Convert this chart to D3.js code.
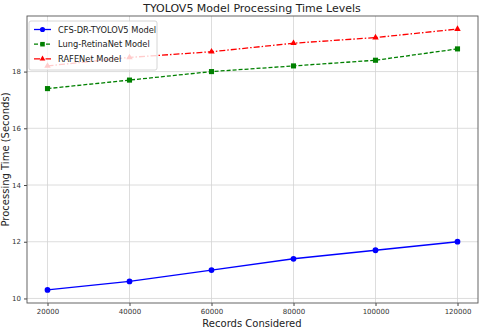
<!DOCTYPE html>
<html>
<head>
<meta charset="utf-8">
<script src="https://cdn.jsdelivr.net/npm/d3@7"></script>
<style>
  body { margin: 0; background: #fff; }
  svg { font-family: "DejaVu Sans", sans-serif; }
</style>
</head>
<body>
<div id="chart"></div>
<script>
// data
var records = [20000, 40000, 60000, 80000, 100000, 120000];
var cfsTimes = [10.3, 10.6, 11.0, 11.4, 11.7, 12.0];
var lungTimes = [17.4, 17.7, 18.0, 18.2, 18.4, 18.8];
var rafeTimes = [18.2, 18.5, 18.7, 19.0, 19.2, 19.5];
var seriesNames = ["CFS-DR-TYOLOV5 Model", "Lung-RetinaNet Model", "RAFENet Model"];
var yTicks = [10, 12, 14, 16, 18];

var width = 480, height = 330;
var margin = {top: 16, right: 2, bottom: 27, left: 27};

var svg = d3.select("#chart")
    .append("svg")
    .attr("width", width)
    .attr("height", height);

var x = d3.scaleLinear().domain([15000, 125000]).range([margin.left, width - margin.right]);
var y = d3.scaleLinear().domain([9.84, 19.96]).range([height - margin.bottom, margin.top]);

// grid
svg.append("g").selectAll("line.gx")
  .data(records).enter().append("line")
  .attr("x1", function (d) { return x(d); }).attr("x2", function (d) { return x(d); })
  .attr("y1", margin.top).attr("y2", height - margin.bottom)
  .attr("stroke", "#d4d4d4").attr("stroke-width", 0.8);
svg.append("g").selectAll("line.gy")
  .data(yTicks).enter().append("line")
  .attr("y1", function (d) { return y(d); }).attr("y2", function (d) { return y(d); })
  .attr("x1", margin.left).attr("x2", width - margin.right)
  .attr("stroke", "#d4d4d4").attr("stroke-width", 0.8);

// axes
var xAxis = svg.append("g")
  .attr("transform", "translate(0," + (height - margin.bottom) + ")")
  .call(d3.axisBottom(x).tickValues(records).tickFormat(d3.format("d")).tickSize(3).tickPadding(3));
var yAxis = svg.append("g")
  .attr("transform", "translate(" + margin.left + ",0)")
  .call(d3.axisLeft(y).tickValues(yTicks).tickSize(3).tickPadding(3));
[xAxis, yAxis].forEach(function (g) {
  g.select(".domain").remove();
  g.selectAll("text").attr("font-size", 7).attr("fill", "#333").attr("font-family", "DejaVu Sans, sans-serif");
  g.selectAll("line").attr("stroke", "#444");
});

// frame
svg.append("rect")
  .attr("x", margin.left).attr("y", margin.top)
  .attr("width", width - margin.left - margin.right)
  .attr("height", height - margin.top - margin.bottom)
  .attr("fill", "none").attr("stroke", "#555").attr("stroke-width", 0.9);

var line = d3.line()
  .x(function (d, i) { return x(records[i]); })
  .y(function (d) { return y(d); });

var series = [
  {name: seriesNames[0], values: cfsTimes, color: "#0000ff", dash: null, marker: d3.symbolCircle, size: 26},
  {name: seriesNames[1], values: lungTimes, color: "#008000", dash: "4,2", marker: d3.symbolSquare, size: 26},
  {name: seriesNames[2], values: rafeTimes, color: "#ff0000", dash: "6,2,1.5,2", marker: d3.symbolTriangle, size: 18}
];

series.forEach(function (s) {
  svg.append("path")
    .attr("d", line(s.values))
    .attr("fill", "none")
    .attr("stroke", s.color)
    .attr("stroke-width", 1.3)
    .attr("stroke-dasharray", s.dash);
  svg.append("g").selectAll("path")
    .data(s.values).enter().append("path")
    .attr("d", d3.symbol().type(s.marker).size(s.size))
    .attr("transform", function (d, i) { return "translate(" + x(records[i]) + "," + y(d) + ")"; })
    .attr("fill", s.color);
});

// legend
var lg = svg.append("g").attr("transform", "translate(29,21)");
lg.append("rect")
  .attr("width", 128).attr("height", 49).attr("rx", 2)
  .attr("fill", "rgba(255,255,255,0.8)").attr("stroke", "#ccc").attr("stroke-width", 0.8);
series.forEach(function (s, i) {
  var yy = 8.5 + i * 14.7;
  lg.append("line").attr("x1", 5).attr("x2", 22).attr("y1", yy).attr("y2", yy)
    .attr("stroke", s.color).attr("stroke-width", 1.3).attr("stroke-dasharray", s.dash);
  lg.append("path").attr("d", d3.symbol().type(s.marker).size(s.size * 0.8))
    .attr("transform", "translate(13.5," + yy + ")").attr("fill", s.color);
  lg.append("text").attr("x", 29).attr("y", yy + 3)
    .attr("font-size", 8.3).attr("fill", "#222").text(s.name);
});

// labels
svg.append("text").attr("x", 252).attr("y", 12).attr("text-anchor", "middle")
  .attr("font-size", 11).attr("fill", "#222").text("TYOLOV5 Model Processing Time Levels");
svg.append("text").attr("x", 252).attr("y", 327).attr("text-anchor", "middle")
  .attr("font-size", 10).attr("fill", "#222").text("Records Considered");
svg.append("text").attr("transform", "translate(9," + ((margin.top + height - margin.bottom) / 2) + ") rotate(-90)")
  .attr("text-anchor", "middle")
  .attr("font-size", 10).attr("fill", "#222").text("Processing Time (Seconds)");
</script>
</body>
</html>
